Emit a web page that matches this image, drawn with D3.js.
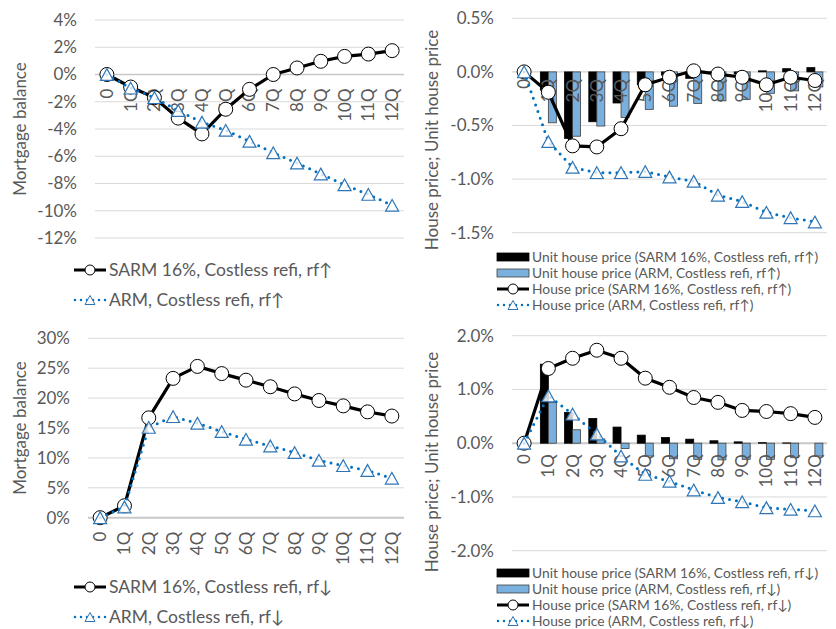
<!DOCTYPE html>
<html>
<head>
<meta charset="utf-8">
<script src="https://cdn.jsdelivr.net/npm/d3@7"></script>
<style>
  body { margin: 0; background: #fff; }
  svg { font-family: Lato, "DejaVu Sans", sans-serif; }
</style>
</head>
<body>
<svg id="chart" width="836" height="629"></svg>
<script>
// categories on the x axis
const quarters = ["0", "1Q", "2Q", "3Q", "4Q", "5Q", "6Q", "7Q", "8Q", "9Q", "10Q", "11Q", "12Q"];

// mortgage balance, rf up (%)
const balSarmUp = [0, -0.92, -1.7, -3.2, -4.36, -2.55, -1.09, 0, 0.48, 0.97, 1.33, 1.5, 1.75];
const balArmUp = [0, -1.0, -1.7, -2.65, -3.5, -4.1, -4.9, -5.75, -6.5, -7.3, -8.1, -8.8, -9.6];

// mortgage balance, rf down (%)
const balSarmDown = [0, 2.0, 16.7, 23.3, 25.3, 24.1, 23.0, 21.9, 20.7, 19.6, 18.7, 17.7, 17.0];
const balArmDown = [0, 1.8, 15.1, 16.9, 15.8, 14.4, 13.1, 12.0, 10.9, 9.6, 8.7, 7.9, 6.6];

// house price / unit house price, rf up (%)
const uhpSarmUp = [0, -0.17, -0.62, -0.465, -0.29, -0.12, -0.03, -0.06, -0.01, -0.02, 0.01, 0.03, 0.04];
const uhpArmUp = [0, -0.475, -0.60, -0.505, -0.425, -0.35, -0.32, -0.295, -0.27, -0.257, -0.20, -0.177, -0.14];
const hpSarmUp = [0, -0.19, -0.69, -0.70, -0.53, -0.12, -0.05, 0.01, -0.02, -0.05, -0.12, -0.05, -0.08];
const hpArmUp = [0, -0.65, -0.89, -0.94, -0.94, -0.93, -0.98, -1.02, -1.15, -1.21, -1.31, -1.36, -1.40];

// house price / unit house price, rf down (%)
const uhpSarmDown = [0, 1.47, 0.57, 0.46, 0.30, 0.15, 0.105, 0.075, 0.045, 0.025, 0.01, 0.005, 0];
const uhpArmDown = [0, 0.76, 0.25, 0.08, -0.10, -0.24, -0.29, -0.30, -0.31, -0.30, -0.30, -0.27, -0.24];
const hpSarmDown = [0, 1.39, 1.58, 1.73, 1.58, 1.21, 1.04, 0.85, 0.76, 0.61, 0.59, 0.55, 0.48];
const hpArmDown = [0, 0.88, 0.54, 0.17, -0.24, -0.58, -0.71, -0.87, -1.01, -1.09, -1.20, -1.23, -1.26];

// tick values
const ticksBalUp = [-12, -10, -8, -6, -4, -2, 0, 2, 4];
const ticksBalDown = [0, 5, 10, 15, 20, 25, 30];
const ticksHpUp = [-1.5, -1.0, -0.5, 0, 0.5];
const ticksHpDown = [-2, -1, 0, 1, 2];

const svg = d3.select("#chart");
const grey = "#595959";
const armBlue = "#0070C0";
const barBlue = "#7AB0DE";

// triangle path centred on 0,0
function triPath(s) {
    const h = s * 0.9;
    return `M0,${-h / 2}L${s / 2},${h / 2}L${-s / 2},${h / 2}Z`;
}

// draw one panel
function drawPanel(p) {
    const g = svg.append("g");

    const x = d3.scaleBand().domain(quarters).range(p.xRange).paddingInner(0).paddingOuter(0);
    const y = d3.scaleLinear().domain(p.yDomain).range(p.yRange);
    const cx = d => x(d) + x.bandwidth() / 2;

    // gridlines
    g.selectAll(".grid")
        .data(p.ticks)
        .enter()
        .append("line")
        .attr("x1", p.xRange[0]).attr("x2", p.xRange[1])
        .attr("y1", d => y(d)).attr("y2", d => y(d))
        .attr("stroke", d => d === 0 ? "#c8c8c8" : "#d9d9d9")
        .attr("stroke-width", d => d === 0 ? p.zeroW : 1);

    // y tick labels
    g.selectAll(".ytick")
        .data(p.ticks)
        .enter()
        .append("text")
        .attr("x", p.tickX)
        .attr("y", d => y(d))
        .attr("dy", "0.35em")
        .attr("text-anchor", "end")
        .attr("fill", grey)
        .style("font-size", "17px")
        .text(p.fmt);

    // y axis title
    g.append("text")
        .attr("transform", `translate(${p.titleX},${p.titleY}) rotate(-90)`)
        .attr("text-anchor", "middle")
        .attr("dy", "0.35em")
        .attr("fill", grey)
        .style("font-size", "17px")
        .text(p.title);

    // bars
    if (p.bars) {
        const bw = 8;
        p.bars.forEach((b, i) => {
            g.selectAll(".bar" + i)
                .data(b.values)
                .enter()
                .append("rect")
                .attr("x", (d, j) => cx(quarters[j]) + (i === 0 ? -bw : 0))
                .attr("y", d => Math.min(y(d), y(0)))
                .attr("width", bw)
                .attr("height", d => Math.abs(y(d) - y(0)))
                .attr("fill", b.color)
                .attr("stroke", b.stroke)
                .attr("stroke-width", 0.8);
        });
    }

    // x tick labels (rotated)
    g.selectAll(".xtick")
        .data(quarters)
        .enter()
        .append("text")
        .attr("transform", d => `translate(${cx(d)},${y(0) + p.xLabOff}) rotate(-90)`)
        .attr("text-anchor", "end")
        .attr("dy", "0.35em")
        .attr("fill", grey)
        .style("font-size", "17px")
        .text(d => d);

    // SARM line with circles
    const line = d3.line().x((d, j) => cx(quarters[j])).y(d => y(d));
    g.append("path")
        .attr("d", line(p.sarm))
        .attr("fill", "none")
        .attr("stroke", "#000")
        .attr("stroke-width", 3.2)
        .attr("stroke-linejoin", "round");
    g.selectAll(".circ")
        .data(p.sarm)
        .enter()
        .append("circle")
        .attr("cx", (d, j) => cx(quarters[j]))
        .attr("cy", d => y(d))
        .attr("r", 7)
        .attr("fill", "#fff")
        .attr("stroke", "#000")
        .attr("stroke-width", 1);

    // ARM dotted line with triangles
    g.append("path")
        .attr("d", line(p.arm))
        .attr("fill", "none")
        .attr("stroke", armBlue)
        .attr("stroke-width", 3)
        .attr("stroke-linecap", "round")
        .attr("stroke-dasharray", "0 7");
    g.selectAll(".tri")
        .data(p.arm)
        .enter()
        .append("path")
        .attr("transform", (d, j) => `translate(${cx(quarters[j])},${y(d)})`)
        .attr("d", triPath(13))
        .attr("fill", "#fff")
        .attr("fill-opacity", 0.8)
        .attr("stroke", "#2E75B6")
        .attr("stroke-width", 1.2);

    // legend
    const lg = svg.append("g");
    p.legend.forEach((item, i) => {
        const ly = p.legY + i * p.legStep;
        const x0 = p.legX, x1 = p.legX + 32, xm = (x0 + x1) / 2;
        if (item.type === "bar") {
            lg.append("rect")
                .attr("x", x0).attr("y", ly - 4)
                .attr("width", 32).attr("height", 8)
                .attr("fill", item.color)
                .attr("stroke", item.stroke)
                .attr("stroke-width", 0.8);
        } else if (item.type === "sarm") {
            lg.append("line")
                .attr("x1", x0).attr("x2", x1).attr("y1", ly).attr("y2", ly)
                .attr("stroke", "#000").attr("stroke-width", 3);
            lg.append("circle")
                .attr("cx", xm).attr("cy", ly).attr("r", 5)
                .attr("fill", "#fff").attr("stroke", "#000");
        } else {
            lg.append("line")
                .attr("x1", x0 + 1).attr("x2", x1).attr("y1", ly).attr("y2", ly)
                .attr("stroke", armBlue).attr("stroke-width", 2.5)
                .attr("stroke-linecap", "round")
                .attr("stroke-dasharray", "0 6");
            lg.append("path")
                .attr("transform", `translate(${xm},${ly})`)
                .attr("d", triPath(10))
                .attr("fill", "#fff")
                .attr("stroke", "#2E75B6");
        }
        lg.append("text")
            .attr("x", x1 + 3)
            .attr("y", ly)
            .attr("dy", "0.35em")
            .attr("fill", grey)
            .style("font-size", p.legFont)
            .text(item.label);
    });
}

const pct0 = d => d + "%";
const pct1 = d => d.toFixed(1) + "%";

drawPanel({
    xRange: [95, 404], yDomain: [-12, 4], yRange: [238, 20], ticks: ticksBalUp,
    fmt: pct0, tickX: 77, titleX: 20, titleY: 129, title: "Mortgage balance", xLabOff: 14, zeroW: 1.5,
    sarm: balSarmUp, arm: balArmUp,
    legX: 74, legY: 270, legStep: 30, legFont: "17.5px",
    legend: [
        { type: "sarm", label: "SARM 16%, Costless refi, rf\u2191" },
        { type: "arm", label: "ARM, Costless refi, rf\u2191" }
    ]
});

drawPanel({
    xRange: [512, 827], yDomain: [-1.5, 0.5], yRange: [232.7, 18.3], ticks: ticksHpUp,
    fmt: pct1, tickX: 494, titleX: 432, titleY: 140, title: "House price; Unit house price", xLabOff: 7, zeroW: 1,
    sarm: hpSarmUp, arm: hpArmUp,
    bars: [
        { values: uhpSarmUp, color: "#000", stroke: "#000" },
        { values: uhpArmUp, color: barBlue, stroke: "#404040" }
    ],
    legX: 497, legY: 257, legStep: 16, legFont: "13.8px",
    legend: [
        { type: "bar", color: "#000", stroke: "#000", label: "Unit house price (SARM 16%, Costless refi, rf\u2191)" },
        { type: "bar", color: barBlue, stroke: "#404040", label: "Unit house price (ARM, Costless refi, rf\u2191)" },
        { type: "sarm", label: "House price (SARM 16%, Costless refi, rf\u2191)" },
        { type: "arm", label: "House price (ARM, Costless refi, rf\u2191)" }
    ]
});

drawPanel({
    xRange: [88, 404], yDomain: [0, 30], yRange: [517.7, 338.3], ticks: ticksBalDown,
    fmt: pct0, tickX: 70, titleX: 20, titleY: 428, title: "Mortgage balance", xLabOff: 14, zeroW: 2,
    sarm: balSarmDown, arm: balArmDown,
    legX: 74, legY: 587, legStep: 30, legFont: "17.5px",
    legend: [
        { type: "sarm", label: "SARM 16%, Costless refi, rf\u2193" },
        { type: "arm", label: "ARM, Costless refi, rf\u2193" }
    ]
});

drawPanel({
    xRange: [512, 827], yDomain: [-2, 2], yRange: [550.7, 335.7], ticks: ticksHpDown,
    fmt: pct1, tickX: 494, titleX: 432, titleY: 462, title: "House price; Unit house price", xLabOff: 11, zeroW: 2,
    sarm: hpSarmDown, arm: hpArmDown,
    bars: [
        { values: uhpSarmDown, color: "#000", stroke: "#000" },
        { values: uhpArmDown, color: barBlue, stroke: "#404040" }
    ],
    legX: 497, legY: 573, legStep: 16, legFont: "13.8px",
    legend: [
        { type: "bar", color: "#000", stroke: "#000", label: "Unit house price (SARM 16%, Costless refi, rf\u2193)" },
        { type: "bar", color: barBlue, stroke: "#404040", label: "Unit house price (ARM, Costless refi, rf\u2193)" },
        { type: "sarm", label: "House price (SARM 16%, Costless refi, rf\u2193)" },
        { type: "arm", label: "House price (ARM, Costless refi, rf\u2193)" }
    ]
});
</script>
</body>
</html>
